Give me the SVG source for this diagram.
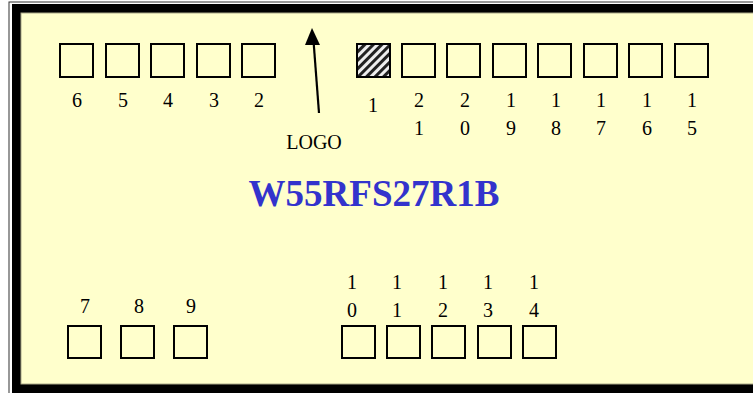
<svg xmlns="http://www.w3.org/2000/svg" width="753" height="393" viewBox="0 0 753 393">
<defs>
<style>
.pin{fill:none;stroke:#000;stroke-width:2}
.lbl{font-family:"Liberation Serif","Times New Roman",serif;font-size:20px;fill:#000;text-anchor:middle}
.title{font-family:"Liberation Serif","Times New Roman",serif;font-size:37px;font-weight:bold;fill:#3333CC;text-anchor:middle}
</style>
<pattern id="hatch" width="6" height="6" patternUnits="userSpaceOnUse" patternTransform="rotate(45)">
<rect width="6" height="6" fill="#eee"/>
<rect width="3" height="6" fill="#222"/>
</pattern>
</defs>
<rect width="753" height="393" fill="#fff"/>
<!-- frame -->
<rect x="9" y="2" width="760" height="400" fill="none" stroke="#333" stroke-width="1"/>
<rect x="12" y="4" width="760" height="400" fill="#000"/>
<rect x="21" y="13" width="740" height="371" fill="#FFFFCC" stroke="#aaa888" stroke-width="1"/>
<g id="pins-top">
<g id="p6"><rect class="pin" x="60" y="44" width="33" height="33"/><text class="lbl" x="77" y="107">6</text></g>
<g id="p5"><rect class="pin" x="106" y="44" width="33" height="33"/><text class="lbl" x="123" y="107">5</text></g>
<g id="p4"><rect class="pin" x="151" y="44" width="33" height="33"/><text class="lbl" x="168" y="107">4</text></g>
<g id="p3"><rect class="pin" x="197" y="44" width="33" height="33"/><text class="lbl" x="214" y="107">3</text></g>
<g id="p2"><rect class="pin" x="242" y="44" width="33" height="33"/><text class="lbl" x="259" y="107">2</text></g>
<g id="p1"><rect x="357" y="44" width="33" height="33" fill="url(#hatch)" stroke="#000" stroke-width="2"/><text class="lbl" x="373" y="112">1</text></g>
<g id="p21"><rect class="pin" x="402" y="44" width="33" height="33"/><text class="lbl" x="419" y="107">2</text><text class="lbl" x="419" y="135">1</text></g>
<g id="p20"><rect class="pin" x="447" y="44" width="33" height="33"/><text class="lbl" x="465" y="107">2</text><text class="lbl" x="465" y="135">0</text></g>
<g id="p19"><rect class="pin" x="493" y="44" width="33" height="33"/><text class="lbl" x="511" y="107">1</text><text class="lbl" x="511" y="135">9</text></g>
<g id="p18"><rect class="pin" x="538" y="44" width="33" height="33"/><text class="lbl" x="556" y="107">1</text><text class="lbl" x="556" y="135">8</text></g>
<g id="p17"><rect class="pin" x="584" y="44" width="33" height="33"/><text class="lbl" x="601" y="107">1</text><text class="lbl" x="601" y="135">7</text></g>
<g id="p16"><rect class="pin" x="629" y="44" width="33" height="33"/><text class="lbl" x="647" y="107">1</text><text class="lbl" x="647" y="135">6</text></g>
<g id="p15"><rect class="pin" x="675" y="44" width="33" height="33"/><text class="lbl" x="692" y="107">1</text><text class="lbl" x="692" y="135">5</text></g>
</g>
<g id="pins-bottom">
<g id="p7"><rect class="pin" x="68" y="326" width="33" height="32"/><text class="lbl" x="85" y="313">7</text></g>
<g id="p8"><rect class="pin" x="121" y="326" width="33" height="32"/><text class="lbl" x="139" y="313">8</text></g>
<g id="p9"><rect class="pin" x="174" y="326" width="33" height="32"/><text class="lbl" x="191" y="313">9</text></g>
<g id="p10"><rect class="pin" x="342" y="326" width="33" height="32"/><text class="lbl" x="352" y="289">1</text><text class="lbl" x="352" y="317">0</text></g>
<g id="p11"><rect class="pin" x="387" y="326" width="33" height="32"/><text class="lbl" x="397" y="289">1</text><text class="lbl" x="397" y="317">1</text></g>
<g id="p12"><rect class="pin" x="432" y="326" width="33" height="32"/><text class="lbl" x="443" y="289">1</text><text class="lbl" x="443" y="317">2</text></g>
<g id="p13"><rect class="pin" x="478" y="326" width="33" height="32"/><text class="lbl" x="488" y="289">1</text><text class="lbl" x="488" y="317">3</text></g>
<g id="p14"><rect class="pin" x="523" y="326" width="33" height="32"/><text class="lbl" x="534" y="289">1</text><text class="lbl" x="534" y="317">4</text></g>
</g>
<g id="logo"><text class="lbl" x="314" y="149">LOGO</text></g>
<g id="title"><text class="title" x="374" y="206">W55RFS27R1B</text></g>
<g id="connectors">
<line x1="319" y1="113" x2="313.6" y2="42" stroke="#000" stroke-width="2.2"/>
<path d="M312,28 L320,45 L305,45 Z" fill="#000"/>
</g>
</svg>
